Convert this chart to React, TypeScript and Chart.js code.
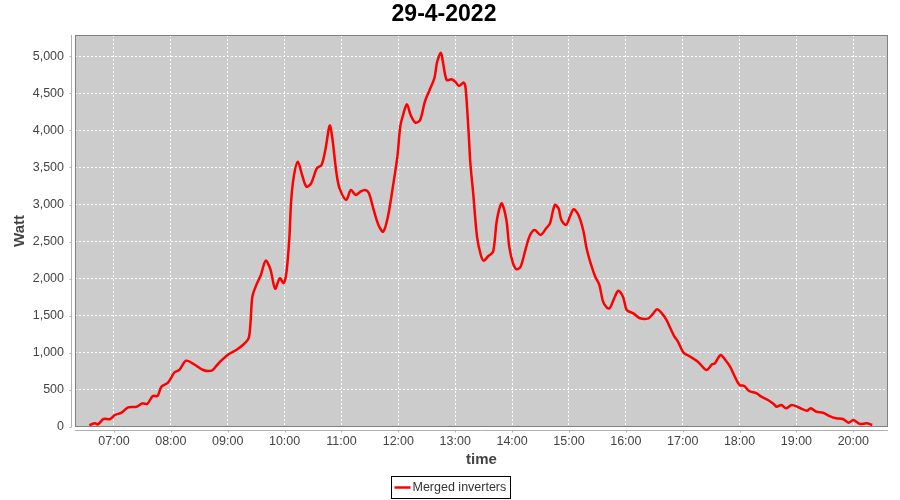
import React, { useEffect, useRef } from "react";
import { Chart, registerables } from "chart.js";

Chart.register(...registerables);

const chartTitle = "29-4-2022";
const seriesName = "Merged inverters";
const yAxisTitle = "Watt";
const xAxisTitle = "time";

const times: string[] = [
  "06:34","06:40","06:43","06:49","06:56","07:01","07:08","07:15","07:24","07:30",
  "07:35","07:41","07:46","07:50","07:57","08:04","08:09","08:16","08:24","08:34",
  "08:43","08:48","08:52","09:01","09:09","09:16","09:22","09:24","09:26","09:30",
  "09:35","09:40","09:45","09:50","09:55","09:59","10:02","10:05","10:07","10:10",
  "10:14","10:18","10:23","10:28","10:34","10:39","10:43","10:48","10:55","10:58",
  "11:05","11:10","11:15","11:20","11:25","11:29","11:34","11:39","11:44","11:49",
  "11:54","11:59","12:02","12:05","12:09","12:13","12:18","12:23","12:28","12:33",
  "12:38","12:41","12:45","12:47","12:51","12:56","13:00","13:04","13:09","13:11",
  "13:14","13:16","13:19","13:23","13:27","13:30","13:35","13:40","13:44","13:49",
  "13:54","13:57","14:01","14:05","14:09","14:14","14:19","14:24","14:30","14:36",
  "14:40","14:45","14:49","14:52","14:57","15:01","15:05","15:10","15:15","15:19",
  "15:24","15:28","15:32","15:36","15:40","15:43","15:47","15:52","15:57","16:01",
  "16:08","16:15","16:24","16:29","16:33","16:38","16:43","16:47","16:51","16:55",
  "17:01","17:08","17:16","17:25","17:31","17:34","17:40","17:45","17:50","17:55",
  "18:00","18:05","18:10","18:18","18:23","18:30","18:36","18:39","18:44","18:49",
  "18:55","19:02","19:11","19:15","19:21","19:28","19:35","19:42","19:49","19:55",
  "20:00","20:07","20:14","20:20"
];

const watts: number[] = [
  25,50,35,108,108,162,193,265,274,319,
  310,418,418,543,598,738,769,894,850,769,
  760,823,881,981,1039,1106,1196,1399,1757,1910,
  2050,2243,2130,1865,2006,1940,2090,2540,3062,3399,
  3579,3421,3241,3287,3489,3534,3736,4064,3400,3219,
  3062,3197,3129,3174,3197,3152,2927,2725,2634,2837,
  3219,3646,4050,4208,4353,4208,4105,4141,4388,4546,
  4703,4927,5049,4927,4680,4690,4658,4600,4645,4568,
  4006,3557,3152,2567,2320,2243,2306,2365,2792,3017,
  2792,2432,2208,2127,2162,2387,2590,2657,2590,2680,
  2747,2994,2949,2792,2725,2837,2936,2860,2657,2387,
  2162,2020,1920,1690,1610,1601,1713,1838,1757,1578,
  1533,1466,1466,1533,1587,1533,1443,1331,1227,1151,
  1002,948,881,769,845,859,971,904,813,678,
  566,553,486,454,409,364,310,274,297,252,
  297,266,220,252,206,193,148,117,108,58,
  94,40,50,27
];

const yTickStep = 500;
const xTickStepMinutes = 60;
const xMinMinutes = 378.9;
const xMaxMinutes = 1236.6;
const yMin = 0;
const yMax = 5287;

const toMinutes = (s: string) => {
  const [h, m] = s.split(":").map(Number);
  return h * 60 + m;
};
const fmtHour = (v: number) => {
  const h = Math.floor(v / 60);
  const m = Math.round(v % 60);
  return `${String(h).padStart(2, "0")}:${String(m).padStart(2, "0")}`;
};

const FONT = "'Liberation Sans', Arial, sans-serif";
const LINE_RED = "#ff0000";

const decoPlugin = {
  id: "jfreeDeco",
  beforeDraw(chart: any) {
    const { ctx, chartArea: a } = chart;
    ctx.save();
    ctx.fillStyle = "#cccccc";
    ctx.fillRect(a.left, a.top, a.right - a.left, a.bottom - a.top);
    ctx.restore();
  },
  afterDatasetsDraw(chart: any) {
    const { ctx, chartArea: a, scales } = chart;
    ctx.save();
    // plot outline
    ctx.strokeStyle = "#808080";
    ctx.lineWidth = 1;
    ctx.strokeRect(a.left + 0.5, a.top + 0.5, a.right - a.left - 1, a.bottom - a.top - 1);
    // offset axis lines
    ctx.strokeStyle = "#b0b0b0";
    ctx.beginPath();
    const ax = a.left - 3.5;
    ctx.moveTo(ax, a.top);
    ctx.lineTo(ax, a.bottom);
    const ay = a.bottom + 3.5;
    ctx.moveTo(a.left, ay);
    ctx.lineTo(a.right, ay);
    for (const t of scales.y.ticks) {
      const py = Math.round(scales.y.getPixelForValue(t.value)) + 0.5;
      ctx.moveTo(ax - 2, py);
      ctx.lineTo(ax, py);
    }
    for (const t of scales.x.ticks) {
      const px = Math.round(scales.x.getPixelForValue(t.value)) + 0.5;
      ctx.moveTo(px, ay);
      ctx.lineTo(px, ay + 2);
    }
    ctx.stroke();
    ctx.restore();
  },
  afterDraw(chart: any) {
    const { ctx, width, height } = chart;
    ctx.save();
    ctx.font = `12.5px ${FONT}`;
    const tw = ctx.measureText(seriesName).width;
    const boxW = Math.round(3 + 16 + 2 + tw + 4);
    const boxH = 22;
    const x0 = Math.round(width / 2 - boxW / 2) + 0.5;
    const y0 = height - 24 + 0.5;
    ctx.fillStyle = "#ffffff";
    ctx.fillRect(x0, y0, boxW, boxH);
    ctx.strokeStyle = "#000000";
    ctx.lineWidth = 1;
    ctx.strokeRect(x0, y0, boxW, boxH);
    const cy = y0 + boxH / 2;
    ctx.strokeStyle = LINE_RED;
    ctx.lineWidth = 2.5;
    ctx.beginPath();
    ctx.moveTo(x0 + 3, cy);
    ctx.lineTo(x0 + 19, cy);
    ctx.stroke();
    ctx.fillStyle = "#333333";
    ctx.textBaseline = "middle";
    ctx.textAlign = "left";
    ctx.fillText(seriesName, x0 + 21, cy + 0.5);
    ctx.restore();
  },
};

export default function App() {
  const ref = useRef<HTMLCanvasElement | null>(null);

  useEffect(() => {
    document.body.style.margin = "0";
    const canvas = ref.current;
    if (!canvas) return;
    const points = times.map((t, i) => ({ x: toMinutes(t), y: watts[i] }));
    const chart = new Chart(canvas, {
      type: "line",
      data: {
        datasets: [
          {
            label: seriesName,
            data: points,
            borderColor: LINE_RED,
            backgroundColor: LINE_RED,
            borderWidth: 2.5,
            pointRadius: 0,
            tension: 0.3,
            fill: false,
          },
        ],
      },
      options: {
        animation: false,
        responsive: false,
        maintainAspectRatio: false,
        layout: { padding: { left: 0, right: 12, top: 0, bottom: 0 } },
        plugins: {
          legend: { display: false },
          tooltip: { enabled: false },
          title: {
            display: true,
            text: chartTitle,
            color: "#000000",
            font: { family: FONT, size: 23, weight: "bold", lineHeight: 1.2 },
            padding: { top: 1, bottom: 6.4 },
          },
        },
        scales: {
          x: {
            type: "linear",
            min: xMinMinutes,
            max: xMaxMinutes,
            afterFit: (s: any) => {
              s.height = 73;
            },
            afterBuildTicks: (s: any) => {
              const ticks = [];
              const start = Math.ceil(xMinMinutes / xTickStepMinutes) * xTickStepMinutes;
              for (let v = start; v <= xMaxMinutes; v += xTickStepMinutes) ticks.push({ value: v });
              s.ticks = ticks;
            },
            ticks: {
              color: "#444444",
              font: { family: FONT, size: 12.5 },
              padding: 7,
              maxRotation: 0,
              autoSkip: false,
              callback: (v: any) => fmtHour(Number(v)),
            },
            grid: { color: "#ffffff", lineWidth: 1, drawTicks: false },
            border: { display: false, dash: [2, 2] },
            title: {
              display: true,
              text: xAxisTitle,
              color: "#444444",
              font: { family: FONT, size: 15, weight: "bold", lineHeight: 1.2 },
              padding: { top: 0, bottom: 31 },
            },
          },
          y: {
            type: "linear",
            min: yMin,
            max: yMax,
            afterFit: (s: any) => {
              s.width = 75;
            },
            afterBuildTicks: (s: any) => {
              const ticks = [];
              for (let v = yMin; v <= yMax; v += yTickStep) ticks.push({ value: v });
              s.ticks = ticks;
            },
            ticks: {
              color: "#444444",
              font: { family: FONT, size: 12.5 },
              padding: 11,
              autoSkip: false,
              callback: (v: any) => Number(v).toLocaleString("en-US"),
            },
            grid: { color: "#ffffff", lineWidth: 1, drawTicks: false },
            border: { display: false, dash: [2, 2] },
            title: {
              display: true,
              text: yAxisTitle,
              color: "#444444",
              font: { family: FONT, size: 15, weight: "bold", lineHeight: 1.2 },
              padding: { top: 11, bottom: 0 },
            },
          },
        },
      },
      plugins: [decoPlugin],
    });
    return () => chart.destroy();
  }, []);

  return (
    <div style={{ width: 900, height: 500 }}>
      <canvas ref={ref} width={900} height={500} />
    </div>
  );
}
